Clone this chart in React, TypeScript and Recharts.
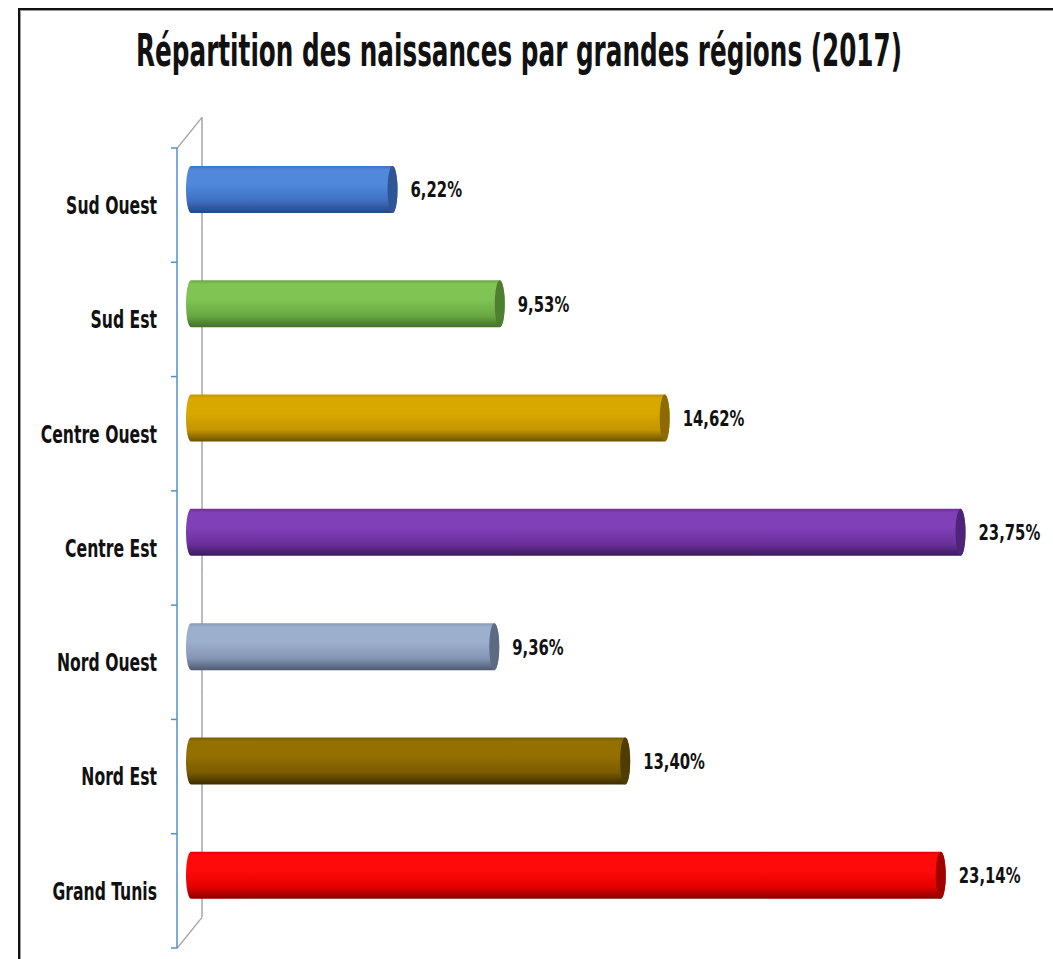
import React from "react"
import { Bar, BarChart, Cell, LabelList, XAxis, YAxis } from "recharts"

// regions, top to bottom as drawn
const regions = [
  "Sud Ouest",
  "Sud Est",
  "Centre Ouest",
  "Centre Est",
  "Nord Ouest",
  "Nord Est",
  "Grand Tunis",
]

// share of births (%), 2017
const shares = [6.22, 9.53, 14.62, 23.75, 9.36, 13.4, 23.14]

const title = "Répartition des naissances par grandes régions (2017)"

// cylinder colours: top edge, body, bottom shade, end cap
const barColors = [
  { top: "#3f6fc2", mid: "#5088dc", low: "#27467f", cap: "#2f5597" },
  { top: "#6aa843", mid: "#80c455", low: "#41702a", cap: "#4e7f30" },
  { top: "#c49600", mid: "#d9a800", low: "#6a5000", cap: "#8c6b00" },
  { top: "#6a309a", mid: "#8040b8", low: "#3a1a58", cap: "#4e2478" },
  { top: "#8596b4", mid: "#9cafcd", low: "#4d5b70", cap: "#5c6a82" },
  { top: "#7a5b00", mid: "#937000", low: "#3c2d00", cap: "#4f3c00" },
  { top: "#e40000", mid: "#ff0a0a", low: "#880000", cap: "#a30000" },
]

const rows = regions.map((region, i) => ({ region, share: shares[i] }))

const W = 1053
const H = 959
const AXIS_X = 177
const PLOT_TOP = 148
const PLOT_BOTTOM = 948
const BAND = (PLOT_BOTTOM - PLOT_TOP) / regions.length
const DEPTH_X = 25
const DEPTH_Y = -31
const DX = 14
const DY = -16
const CAP_RX = 5
const FONT = '"Liberation Sans Narrow", "DejaVu Sans Condensed", "Roboto", sans-serif'
const AXIS_BLUE = "#4f8fcf"
const WALL = "#a6a6a6"
const TITLE_SCALE = 0.62

const fmt = (v: number) => v.toFixed(2).replace(".", ",") + "%"

function Cylinder(props: any) {
  const { x, y, width, height, index } = props
  const c = barColors[index] || barColors[0]
  const x0 = x + DX
  const x1 = x + DX + width
  const top = y + DY
  const bot = top + height
  const ry = height / 2
  const bandTop = y + height / 2 - BAND / 2
  const gid = "cyl" + index
  return (
    <g>
      {/* back wall segment for this band */}
      <line
        x1={AXIS_X + DEPTH_X}
        x2={AXIS_X + DEPTH_X}
        y1={bandTop + DEPTH_Y}
        y2={bandTop + BAND + DEPTH_Y}
        stroke={WALL}
        strokeWidth={1.5}
      />
      {index === 0 && (
        <line x1={AXIS_X} y1={bandTop} x2={AXIS_X + DEPTH_X} y2={bandTop + DEPTH_Y} stroke={WALL} strokeWidth={1.5} />
      )}
      {index === regions.length - 1 && (
        <line
          x1={AXIS_X}
          y1={bandTop + BAND}
          x2={AXIS_X + DEPTH_X}
          y2={bandTop + BAND + DEPTH_Y}
          stroke={WALL}
          strokeWidth={1.5}
        />
      )}
      <defs>
        <linearGradient id={gid} x1="0" y1="0" x2="0" y2="1">
          <stop offset="0" stopColor={c.top} />
          <stop offset="0.08" stopColor={c.mid} />
          <stop offset="0.4" stopColor={c.mid} />
          <stop offset="0.75" stopColor={c.top} />
          <stop offset="1" stopColor={c.low} />
        </linearGradient>
      </defs>
      <path
        d={`M${x0},${top} L${x1},${top} A${CAP_RX},${ry} 0 0 1 ${x1},${bot} L${x0},${bot} A${CAP_RX},${ry} 0 0 1 ${x0},${top} Z`}
        fill={`url(#${gid})`}
      />
      <ellipse cx={x1} cy={top + ry} rx={CAP_RX} ry={ry} fill={c.cap} />
    </g>
  )
}

function RegionTick(props: any) {
  const { y, payload, index } = props
  const yb = y - BAND / 2
  return (
    <g>
      <line x1={AXIS_X - 6} x2={AXIS_X} y1={yb} y2={yb} stroke={AXIS_BLUE} strokeWidth={1.5} />
      {index === regions.length - 1 && (
        <line x1={AXIS_X - 6} x2={AXIS_X} y1={yb + BAND} y2={yb + BAND} stroke={AXIS_BLUE} strokeWidth={1.5} />
      )}
      <g transform={`translate(157,${y}) scale(0.71,1)`}>
        <text
          x={0}
          y={0}
          dy="0.36em"
          textAnchor="end"
          fontFamily={FONT}
          fontWeight="bold"
          fontSize={24.5}
          fill="#111"
        >
          {payload.value}
        </text>
      </g>
    </g>
  )
}

function ValueLabel(props: any) {
  const { x, y, width, height, value } = props
  const tx = x + width + DX + CAP_RX + 13
  const ty = y + height / 2 + DY
  return (
    <g transform={`translate(${tx},${ty}) scale(0.75,1)`}>
      <text x={0} y={0} dy="0.36em" fontFamily={FONT} fontWeight="bold" fontSize={22} fill="#111">
        {fmt(value)}
      </text>
    </g>
  )
}

export default function App() {
  return (
    <div style={{ position: "absolute", left: 0, top: 0, width: W, height: H, background: "#fff", overflow: "hidden" }}>
      <div
        style={{
          position: "absolute",
          left: 18,
          top: 8,
          width: W,
          height: H,
          borderLeft: "2px solid #111",
          borderTop: "2px solid #111",
          boxShadow: "inset 1px 1px 0 #999",
        }}
      />
      <svg width={W} height={90} style={{ position: "absolute", left: 0, top: 0 }}>
        <g transform={`translate(519,66) scale(${TITLE_SCALE},1)`}>
          <text
            x={0}
            y={0}
            textAnchor="middle"
            textLength={766 / TITLE_SCALE}
            lengthAdjust="spacingAndGlyphs"
            fontFamily={FONT}
            fontWeight="bold"
            fontSize={44}
            fill="#111"
          >
            {title}
          </text>
        </g>
      </svg>
      <div style={{ position: "absolute", left: 0, top: 0 }}>
        <BarChart
          width={W}
          height={H}
          layout="vertical"
          data={rows}
          barSize={47}
          margin={{ top: PLOT_TOP, right: W - (AXIS_X + 810), bottom: H - PLOT_BOTTOM, left: 0 }}
        >
          <XAxis type="number" domain={[0, 25]} hide />
          <YAxis
            type="category"
            dataKey="region"
            width={AXIS_X}
            interval={0}
            tickLine={false}
            axisLine={{ stroke: AXIS_BLUE, strokeWidth: 1.5 }}
            tick={<RegionTick />}
          />
          <Bar dataKey="share" shape={<Cylinder />} isAnimationActive={false}>
            {rows.map((r, i) => (
              <Cell key={r.region} fill={barColors[i].mid} />
            ))}
            <LabelList dataKey="share" content={<ValueLabel />} />
          </Bar>
        </BarChart>
      </div>
    </div>
  )
}
